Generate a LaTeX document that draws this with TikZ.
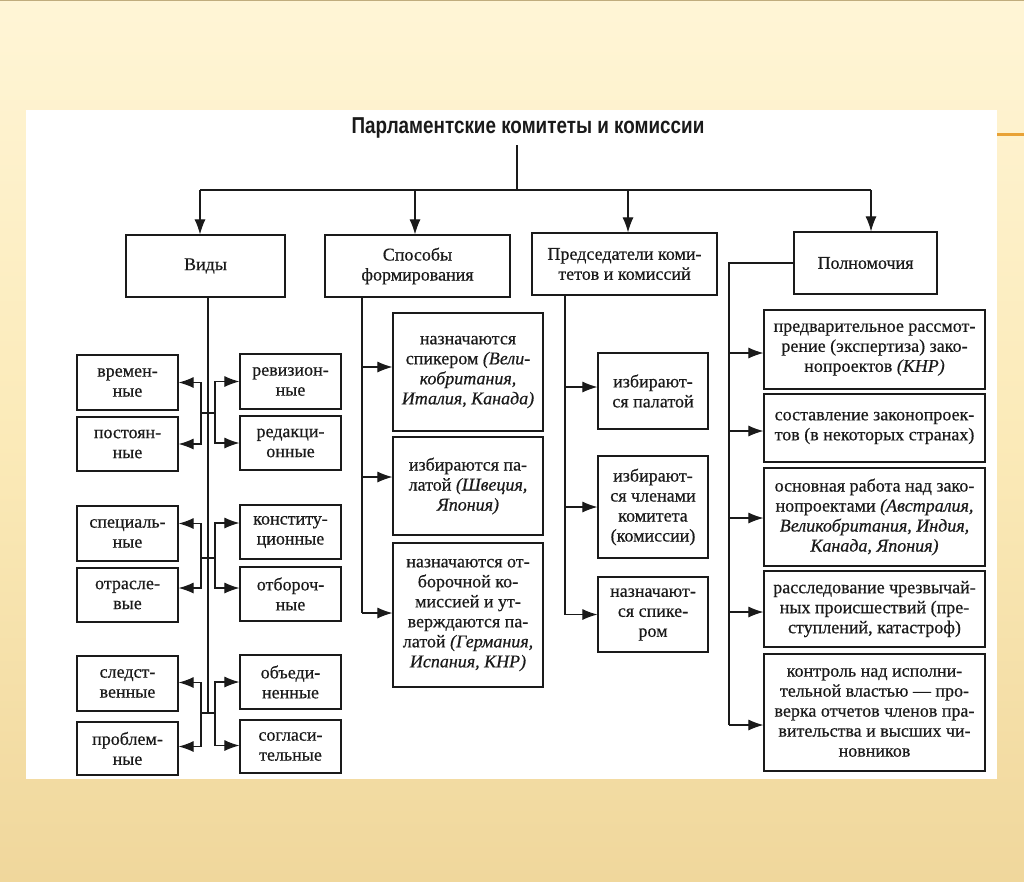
\documentclass[tikz,border=0pt]{standalone}
\usepackage{fontspec}
\setmainfont[FakeBold=0.5]{Liberation Serif}
\newfontfamily\titlefont[FakeStretch=0.82]{Liberation Sans}
\usetikzlibrary{arrows.meta}
\definecolor{bgtop}{HTML}{FFF5D6}
\definecolor{bgmid}{HTML}{FBEAB8}
\definecolor{bgbot}{HTML}{F0D79C}
\definecolor{orangeln}{HTML}{E8A236}
\definecolor{inkc}{HTML}{1A1A1A}
\begin{document}
\begin{tikzpicture}[x=1pt,y=-1pt,
  box/.style={draw=inkc, line width=1.2pt, inner sep=0pt, align=center, text=inkc,
    font=\fontsize{18}{20}\selectfont},
  ln/.style={draw=inkc, line width=1.1pt},
  arr/.style={draw=inkc, line width=1.1pt, -{Latex[length=15pt,width=11pt]}}]
\useasboundingbox (0,0) rectangle (1024,881);
% background
\shade[top color=bgtop, bottom color=bgbot, middle color=bgmid] (0,0) rectangle (1024,881);
\draw[color=bgbot!80!black, line width=1pt] (0,0.5) -- (1024,0.5);
\fill[white] (26,110) rectangle (997,779);
\draw[orangeln, line width=3pt] (997,134) -- (1024,134);

% title
\node[anchor=base, inner sep=0pt, text=inkc, font=\titlefont\bfseries\fontsize{23}{25}\selectfont] (title) at (528,133) {Парламентские комитеты и комиссии};

% top row
\node[box, minimum width=159pt, minimum height=62pt] (vidy) at (205.5,266) {Виды};
\node[box, minimum width=185pt, minimum height=62pt] (sposob) at (417.5,266) {Способы\\формирования};
\node[box, minimum width=185pt, minimum height=62pt] (pred) at (624.5,264) {Председатели коми-\\тетов и комиссий};
\node[box, minimum width=143pt, minimum height=62pt] (poln) at (865.5,263) {Полномочия};

\coordinate (tt) at (517,145);
\coordinate (tb) at (517,190);
\coordinate (b1) at (200,190);
\coordinate (b2) at (415,190);
\coordinate (b3) at (628,190);
\coordinate (b4) at (871,190);
\draw[ln] (tt) -- (tb);
\draw[ln] (b1) -- (b4);
\draw[arr] (b1) -- (b1 |- vidy.north);
\draw[arr] (b2) -- (b2 |- sposob.north);
\draw[arr] (b3) -- (b3 |- pred.north);
\draw[arr] (b4) -- (b4 |- poln.north);

% Vidy group
\node[box, minimum width=101pt, minimum height=55pt] (v1) at (127.5,382.5) {времен-\\ные};
\node[box, minimum width=101pt, minimum height=54pt] (v2) at (127.5,444) {постоян-\\ные};
\node[box, minimum width=101pt, minimum height=55pt] (v3) at (127.5,533.5) {специаль-\\ные};
\node[box, minimum width=101pt, minimum height=54pt] (v4) at (127.5,595) {отрасле-\\вые};
\node[box, minimum width=101pt, minimum height=55pt] (v5) at (127.5,683.5) {следст-\\венные};
\node[box, minimum width=101pt, minimum height=53pt] (v6) at (127.5,748.5) {проблем-\\ные};
\node[box, minimum width=101pt, minimum height=55pt] (r1) at (290.5,381.5) {ревизион-\\ные};
\node[box, minimum width=101pt, minimum height=54pt] (r2) at (290.5,443) {редакци-\\онные};
\node[box, minimum width=101pt, minimum height=54pt] (r3) at (290.5,532) {конститу-\\ционные};
\node[box, minimum width=101pt, minimum height=54pt] (r4) at (290.5,594) {отбороч-\\ные};
\node[box, minimum width=101pt, minimum height=54pt] (r5) at (290.5,682) {объеди-\\ненные};
\node[box, minimum width=101pt, minimum height=53pt] (r6) at (290.5,746.5) {согласи-\\тельные};

\coordinate (vt) at (208,713);
\draw[ln] (vidy.south -| vt) -- (vt);
\coordinate (jl1) at (201,413); \coordinate (jr1) at (215,413);
\coordinate (jl2) at (201,558); \coordinate (jr2) at (215,558);
\coordinate (jl3) at (201,713); \coordinate (jr3) at (215,713);
\draw[ln] (jl1) -- (jr1);
\draw[ln] (jl2) -- (jr2);
\draw[ln] (jl3) -- (jr3);
\draw[arr] (jl1) |- (v1.east);
\draw[arr] (jl1) |- (v2.east);
\draw[arr] (jr1) |- (r1.west);
\draw[arr] (jr1) |- (r2.west);
\draw[arr] (jl2) |- ([yshift=10pt]v3.east);
\draw[arr] (jl2) |- ([yshift=7pt]v4.east);
\draw[arr] (jr2) |- ([yshift=9pt]r3.west);
\draw[arr] (jr2) |- ([yshift=6pt]r4.west);
\draw[arr] (jl3) |- ([yshift=1pt]v5.east);
\draw[arr] (jl3) |- ([yshift=2pt]v6.east);
\draw[arr] (jr3) |- (r5.west);
\draw[arr] (jr3) |- ([yshift=1pt]r6.west);

% Sposoby group
\node[box, minimum width=150pt, minimum height=118pt] (s1) at (468,372) {назначаются\\спикером \textit{(Вели-}\\\textit{кобритания,}\\\textit{Италия, Канада)}};
\node[box, minimum width=150pt, minimum height=98pt] (s2) at (468,486) {избираются па-\\латой \textit{(Швеция,}\\\textit{Япония)}};
\node[box, minimum width=150pt, minimum height=144pt] (s3) at (468,615) {назначаются от-\\борочной ко-\\миссией и ут-\\верждаются па-\\латой \textit{(Германия,}\\\textit{Испания, КНР)}};
\coordinate (st) at (362,300);
\draw[ln] (sposob.south -| st) -- ([yshift=2pt]s3.west -| st);
\draw[arr] ([yshift=5pt]s1.west -| st) -- ([yshift=5pt]s1.west);
\draw[arr] ([yshift=9pt]s2.west -| st) -- ([yshift=9pt]s2.west);
\draw[arr] ([yshift=2pt]s3.west -| st) -- ([yshift=2pt]s3.west);

% Predsedateli group
\node[box, minimum width=110pt, minimum height=76pt] (p1) at (653,391) {избирают-\\ся палатой};
\node[box, minimum width=110pt, minimum height=102pt] (p2) at (653,507) {избирают-\\ся членами\\комитета\\(комиссии)};
\node[box, minimum width=110pt, minimum height=75pt] (p3) at (653,614.5) {назначают-\\ся спике-\\ром};
\coordinate (pt) at (565,300);
\draw[ln] (pred.south -| pt) -- (p3.west -| pt);
\draw[arr] ([yshift=4pt]p1.west -| pt) -- ([yshift=4pt]p1.west);
\draw[arr] (p2.west -| pt) -- (p2.west);
\draw[arr] (p3.west -| pt) -- (p3.west);

% Polnomochiya group
\node[box, minimum width=221pt, minimum height=79pt] (q1) at (874.5,349.5) {предварительное рассмот-\\рение (экспертиза) зако-\\нопроектов \textit{(КНР)}};
\node[box, minimum width=221pt, minimum height=68pt] (q2) at (874.5,428) {составление законопроек-\\тов (в некоторых странах)};
\node[box, minimum width=221pt, minimum height=98pt] (q3) at (874.5,517) {основная работа над зако-\\нопроектами \textit{(Австралия,}\\\textit{Великобритания, Индия,}\\\textit{Канада, Япония)}};
\node[box, minimum width=221pt, minimum height=76pt] (q4) at (874.5,609) {расследование чрезвычай-\\ных происшествий (пре-\\ступлений, катастроф)};
\node[box, minimum width=221pt, minimum height=117pt] (q5) at (874.5,712.5) {контроль над исполни-\\тельной властью — про-\\верка отчетов членов пра-\\вительства и высших чи-\\новников};
\coordinate (qt) at (729,300);
\draw[ln] (poln.west) -| ([yshift=-12.5pt]q5.west -| qt);
\draw[arr] ([yshift=-3.5pt]q1.west -| qt) -- ([yshift=-3.5pt]q1.west);
\draw[arr] ([yshift=-3pt]q2.west -| qt) -- ([yshift=-3pt]q2.west);
\draw[arr] ([yshift=-1pt]q3.west -| qt) -- ([yshift=-1pt]q3.west);
\draw[arr] ([yshift=-3pt]q4.west -| qt) -- ([yshift=-3pt]q4.west);
\draw[arr] ([yshift=-12.5pt]q5.west -| qt) -- ([yshift=-12.5pt]q5.west);
\end{tikzpicture}
\end{document}
